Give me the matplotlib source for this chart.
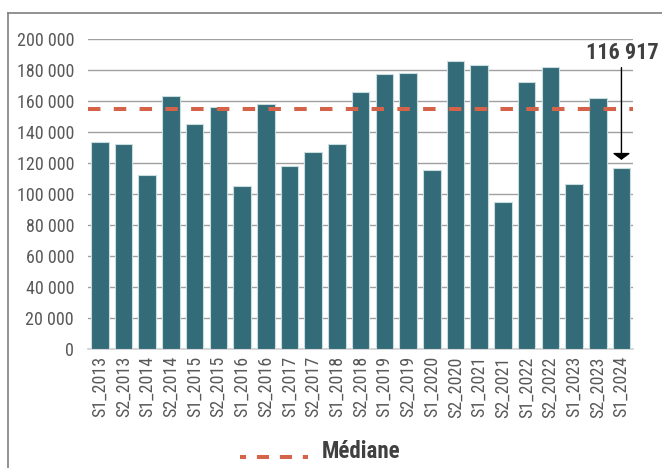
import numpy as np
import matplotlib
matplotlib.use("Agg")
import matplotlib.pyplot as plt
from matplotlib import font_manager
from matplotlib.lines import Line2D

# Police étroite si disponible
familles = {f.name for f in font_manager.fontManager.ttflist}
police = 'Roboto'
for nom in ['Roboto Condensed', 'Liberation Sans Narrow', 'Open Sans Condensed']:
    if nom in familles:
        police = nom
        break
plt.rcParams['font.family'] = [police, 'DejaVu Sans']

# Données
semestres = ['S1_2013', 'S2_2013', 'S1_2014', 'S2_2014', 'S1_2015', 'S2_2015',
             'S1_2016', 'S2_2016', 'S1_2017', 'S2_2017', 'S1_2018', 'S2_2018',
             'S1_2019', 'S2_2019', 'S1_2020', 'S2_2020', 'S1_2021', 'S2_2021',
             'S1_2022', 'S2_2022', 'S1_2023', 'S2_2023', 'S1_2024']
valeurs = [133900, 132500, 112500, 163600, 145400, 156100,
           105400, 158100, 118300, 127500, 132300, 165800,
           177400, 178100, 115700, 186200, 183600, 94800,
           172300, 182100, 106800, 161900, 116917]
mediane = 154800
derniere_valeur = 116917

fig = plt.figure(figsize=(6.62, 4.68), dpi=100)
ax = fig.add_axes([88 / 662, 1 - 349.3 / 468, (633.3 - 88) / 662, 310 / 468])

x = np.arange(len(semestres))
ax.bar(x, valeurs, width=0.74, color='#336b78', edgecolor='#c9dde1', linewidth=0.8, zorder=3)

# Ligne de la médiane
ax.axhline(mediane, color='#d4634a', linewidth=2.9, linestyle=(0, (3.1, 3.3)), zorder=4)

ax.set_xlim(-0.5, len(semestres) - 0.5)
ax.set_ylim(0, 200000)
ax.set_yticks(np.arange(0, 200001, 20000))
ax.set_yticklabels([f"{v:,}".replace(',', ' ') for v in range(0, 200001, 20000)])
ax.set_xticks(x)
ax.set_xticklabels(semestres, rotation=90)
ax.tick_params(axis='both', length=0, labelsize=13, colors='#595959')
ax.tick_params(axis='y', pad=10)
ax.tick_params(axis='x', pad=5)
ax.grid(axis='y', color='#a0a0a0', linewidth=1, zorder=0)
for s in ['top', 'left', 'right']:
    ax.spines[s].set_visible(False)
ax.spines['bottom'].set_color('#d0d0d0')
ax.spines['bottom'].set_linewidth(1.2)

# Annotation de la dernière valeur
ax.annotate('', xy=(x[-1], derniere_valeur + 3500), xytext=(x[-1], 183500),
            arrowprops=dict(arrowstyle='-|>,head_length=0.28,head_width=0.38',
                            color='black', lw=1, mutation_scale=14),
            zorder=5, annotation_clip=False)
fig.text(659 / 662, 1 - 53 / 468, f"{derniere_valeur:,}".replace(',', ' '), ha='right', va='center',
         fontsize=16, fontweight='bold', color='#404040')

# Légende
fig.add_artist(Line2D([240 / 662, 308 / 662], [1 - 457 / 468, 1 - 457 / 468], color='#d4634a',
                      linewidth=2.9, linestyle=(1.5, (3.0, 2.7))))
fig.text(322 / 662, 1 - 452 / 468, 'Médiane', fontsize=16.5, fontweight='bold', color='#404040',
         ha='left', va='center')

# Cadre
fig.add_artist(Line2D([8 / 662, 8 / 662], [0, 1 - 13 / 468], color='#7f7f7f', linewidth=1.2))
fig.add_artist(Line2D([8 / 662, 1], [1 - 13 / 468, 1 - 13 / 468], color='#7f7f7f', linewidth=1.2))

fig.savefig('out.png', dpi=100)
